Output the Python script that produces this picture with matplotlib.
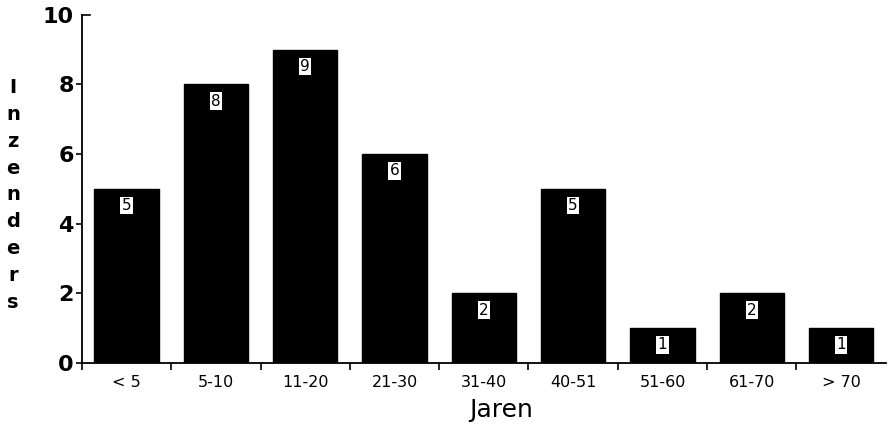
import numpy as np
import matplotlib.pyplot as plt

# data
CATEGORIES = ["< 5", "5-10", "11-20", "21-30", "31-40", "40-51", "51-60", "61-70", "> 70"]
COUNTS = [5, 8, 9, 6, 2, 5, 1, 2, 1]
Y_TICKS = [0, 2, 4, 6, 8, 10]

plt.rcParams.update({
    "font.family": ["DejaVu Sans"],
})

fig = plt.figure(figsize=(8.95, 4.25), dpi=100)
# y=0 at ~363 px, y=10 at ~15 px
ax = fig.add_axes([0.0916, 0.146, 0.898, 0.819])

x = np.arange(len(CATEGORIES))
ax.bar(x, COUNTS, width=0.72, color="black", edgecolor="black", zorder=2)

for xi, val in zip(x, COUNTS):
    ax.text(xi, val - 0.48, str(val), ha="center", va="center",
            fontsize=11, color="black", zorder=3,
            bbox=dict(facecolor="white", edgecolor="none", pad=1.0))

ax.set_xlim(-0.5, len(CATEGORIES) - 0.5)
ax.set_ylim(0, 10)

ax.set_yticks(Y_TICKS)
ax.set_yticklabels([str(t) for t in Y_TICKS], fontsize=16, fontweight="bold")
ax.tick_params(axis="y", direction="out", length=4, width=1.2, pad=2)
# the top tick points inward in the original
ax.yaxis.get_major_ticks()[-1].tick1line.set_visible(False)
ax.axhline(10, xmin=0, xmax=0.01, color="black", lw=1.2, clip_on=False)

ax.set_xticks(x)
ax.set_xticklabels(CATEGORIES, fontsize=11.5)
ax.tick_params(axis="x", which="major", length=0, pad=9)
ax.set_xticks(np.arange(-0.5, len(CATEGORIES) - 1, 1.0), minor=True)
ax.tick_params(axis="x", which="minor", direction="out", length=5, width=1.2)

ax.spines["top"].set_visible(False)
ax.spines["right"].set_visible(False)
ax.spines["left"].set_linewidth(1.3)
ax.spines["bottom"].set_linewidth(1.3)

fig.text(501 / 895, 1 - 417 / 425, "Jaren", ha="center", va="baseline",
         fontsize=18)

fig.text(13 / 895, 1 - 195 / 425, "\n".join("Inzenders"), ha="center", va="center",
         fontsize=14, fontweight="bold", linespacing=1.52)

fig.savefig("out.png", dpi=100)
